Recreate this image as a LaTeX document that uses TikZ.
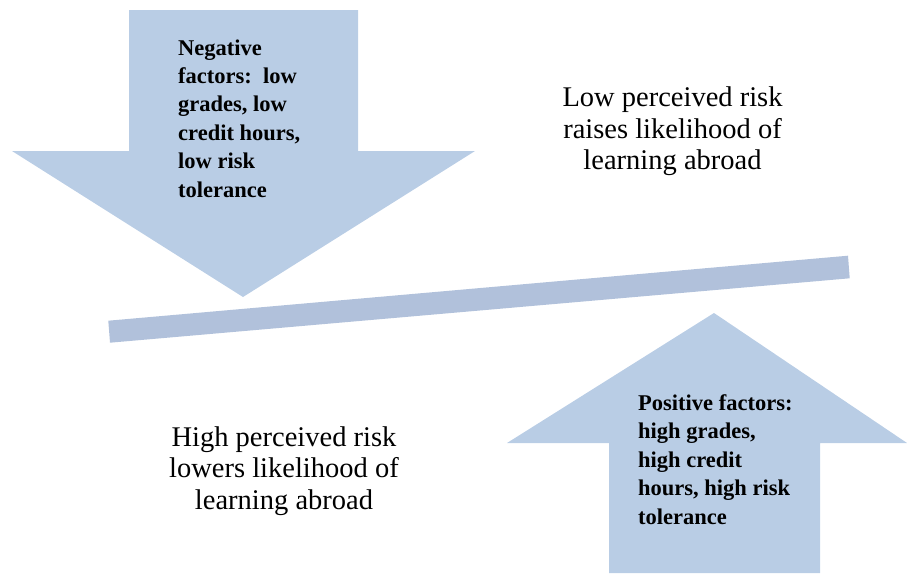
\documentclass[tikz,border=0pt]{standalone}
\usepackage{fontspec}
\setmainfont{Liberation Serif}
\definecolor{arrowblue}{RGB}{185,205,229}
\definecolor{barblue}{RGB}{177,193,219}
\tikzset{
  bigarrow/.style={fill=arrowblue, draw=none},
  seesaw/.style={fill=barblue, draw=none},
  factortext/.style={inner sep=0pt, align=left, font=\fontsize{22.5}{28.4}\selectfont\bfseries, text=black},
  risktext/.style={inner sep=0pt, align=center, font=\fontsize{28.5}{31.5}\selectfont, text=black}
}
\begin{document}
\begin{tikzpicture}[x=1pt, y=-1pt]
\useasboundingbox (0,0) rectangle (907,573);
% down arrow
\fill[bigarrow] (129,10) -- (358,10) -- (358,151) -- (475,151) -- (243,297) -- (12,151) -- (129,151) -- cycle;
% up arrow
\fill[bigarrow] (609,573) -- (609,443) -- (507,443) -- (714,313) -- (907,443) -- (820,443) -- (820,573) -- cycle;
% seesaw bar
\fill[seesaw] (108.3,320.7) -- (848,255.7) -- (849.7,278.3) -- (110,342.7) -- cycle;
% texts (anchor base = baseline of the last line)
\node[factortext, anchor=base west] (neg) at (178,197) {Negative\\factors:\ \ low\\grades, low\\credit hours,\\low risk\\tolerance};
\node[factortext, anchor=base west] (pos) at (638,524) {Positive factors:\\high grades,\\high credit\\hours, high risk\\tolerance};
\node[risktext, anchor=base] (low) at (672.5,169.5) {Low perceived risk\\raises likelihood of\\learning abroad};
\node[risktext, anchor=base] (high) at (284,509) {High perceived risk\\lowers likelihood of\\learning abroad};
\end{tikzpicture}
\end{document}
